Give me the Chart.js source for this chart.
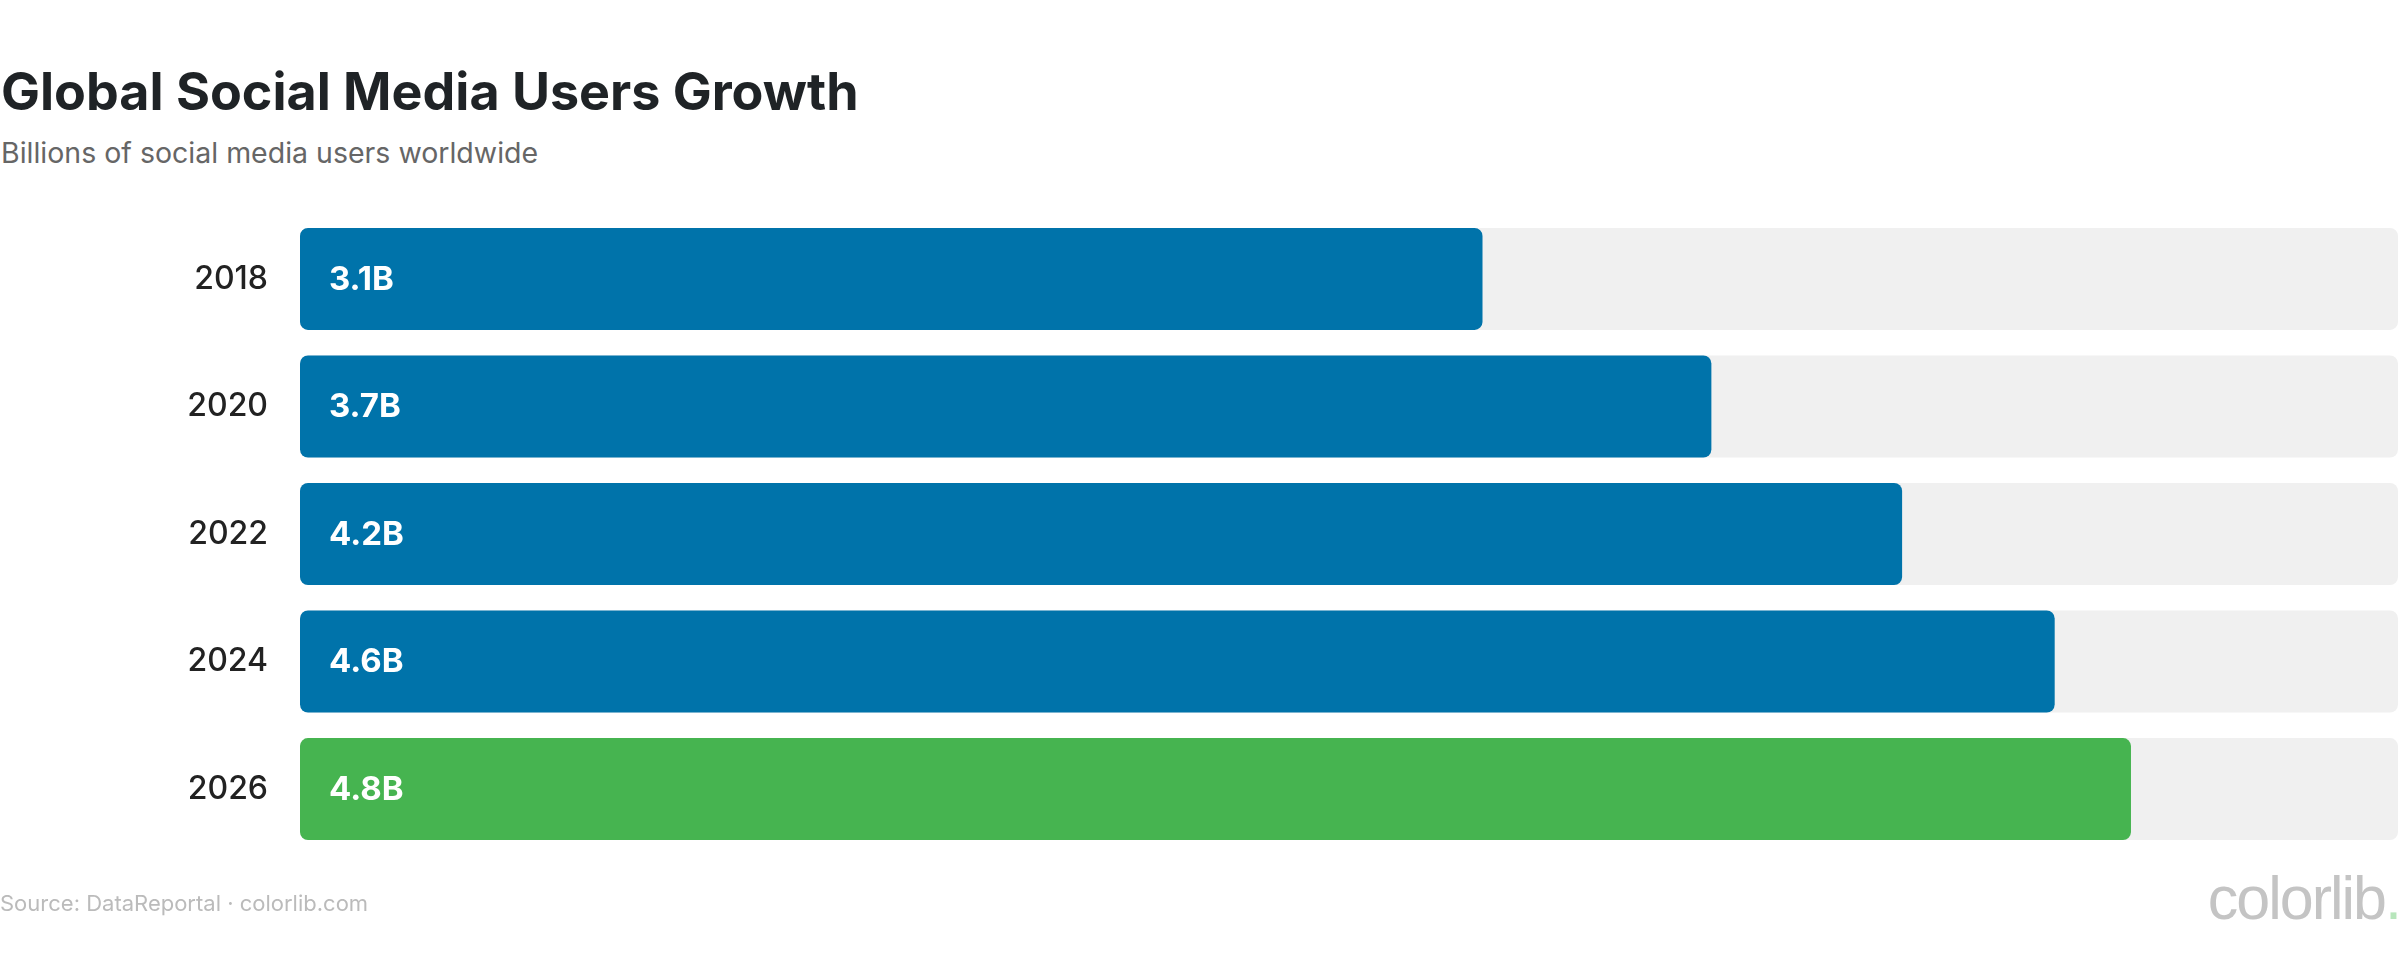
<!DOCTYPE html>
<html>
<head>
<meta charset="utf-8">
<script src="https://cdn.jsdelivr.net/npm/chart.js@4.4.1/dist/chart.umd.min.js"></script>
<style>
  html, body { margin: 0; padding: 0; background: #fff; }
  body { width: 2400px; height: 958px; position: relative; overflow: hidden; font-family: Inter, "Noto Sans", sans-serif; }
  #title { position: absolute; left: 1px; top: 62px; font-size: 52px; font-weight: 700; color: #1f2326; line-height: 60px; white-space: nowrap; }
  #subtitle { position: absolute; left: 1px; top: 137px; font-size: 28.5px; color: #666; line-height: 32px; white-space: nowrap; }
  #chartBox { position: absolute; left: 0; top: 164px; width: 2398px; height: 740px; }
  #source { position: absolute; left: 0; top: 890px; font-size: 22px; color: #bbb; line-height: 26px; white-space: nowrap; }
  #logo { position: absolute; right: 0; top: 867px; font-family: "Liberation Sans", sans-serif; font-size: 61px; color: #c4c4c4; letter-spacing: -2px; line-height: 62px; }
  #logo span { color: #b8e6bc; }
</style>
</head>
<body>
<div id="title">Global Social Media Users Growth</div>
<div id="subtitle">Billions of social media users worldwide</div>
<div id="chartBox"><canvas id="usersChart"></canvas></div>
<div id="source">Source: DataReportal · colorlib.com</div>
<div id="logo">colorlib<span>.</span></div>

<script>
const years = ['2018', '2020', '2022', '2024', '2026'];
const users = [3.1, 3.7, 4.2, 4.6, 4.8];
const valueLabels = ['3.1B', '3.7B', '4.2B', '4.6B', '4.8B'];
const axisMax = 5.5;
const track = years.map(() => axisMax);
const barColors = ['#0073aa', '#0073aa', '#0073aa', '#0073aa', '#46b450'];

// white value text inside each bar, near its start
const valueLabelPlugin = {
    id: 'valueLabels',
    afterDatasetsDraw(chart) {
        const ctx = chart.ctx;
        const meta = chart.getDatasetMeta(1);
        ctx.save();
        ctx.font = '700 33px Inter, "Noto Sans", sans-serif';
        ctx.fillStyle = '#fff';
        ctx.textBaseline = 'middle';
        ctx.textAlign = 'left';
        meta.data.forEach((bar, i) => {
            ctx.fillText(valueLabels[i], bar.base + 29, bar.y + 1);
        });
        ctx.restore();
    }
};

const ctx = document.getElementById('usersChart');

const usersChart = new Chart(ctx, {
    type: 'bar',
    data: {
        labels: years,
        datasets: [{
            label: 'track',
            data: track,
            backgroundColor: '#f0f0f0',
            borderRadius: 8,
            borderSkipped: false,
            grouped: false,
            order: 2
        }, {
            label: 'Users',
            data: users,
            backgroundColor: barColors,
            borderRadius: 8,
            borderSkipped: false,
            grouped: false,
            order: 1
        }]
    },
    options: {
        indexAxis: 'y',
        responsive: true,
        maintainAspectRatio: false,
        animation: false,
        categoryPercentage: 1,
        barPercentage: 0.8,
        layout: { padding: 0 },
        plugins: {
            legend: { display: false },
            tooltip: { enabled: false }
        },
        scales: {
            x: {
                display: false,
                min: 0,
                max: axisMax
            },
            y: {
                grid: { display: false, drawTicks: false },
                border: { display: false },
                ticks: {
                    padding: 32,
                    color: '#222',
                    font: { family: 'Inter, "Noto Sans", sans-serif', size: 32, weight: '500' }
                },
                afterFit(axis) { axis.width = 300; }
            }
        }
    },
    plugins: [valueLabelPlugin]
});
</script>
</body>
</html>
